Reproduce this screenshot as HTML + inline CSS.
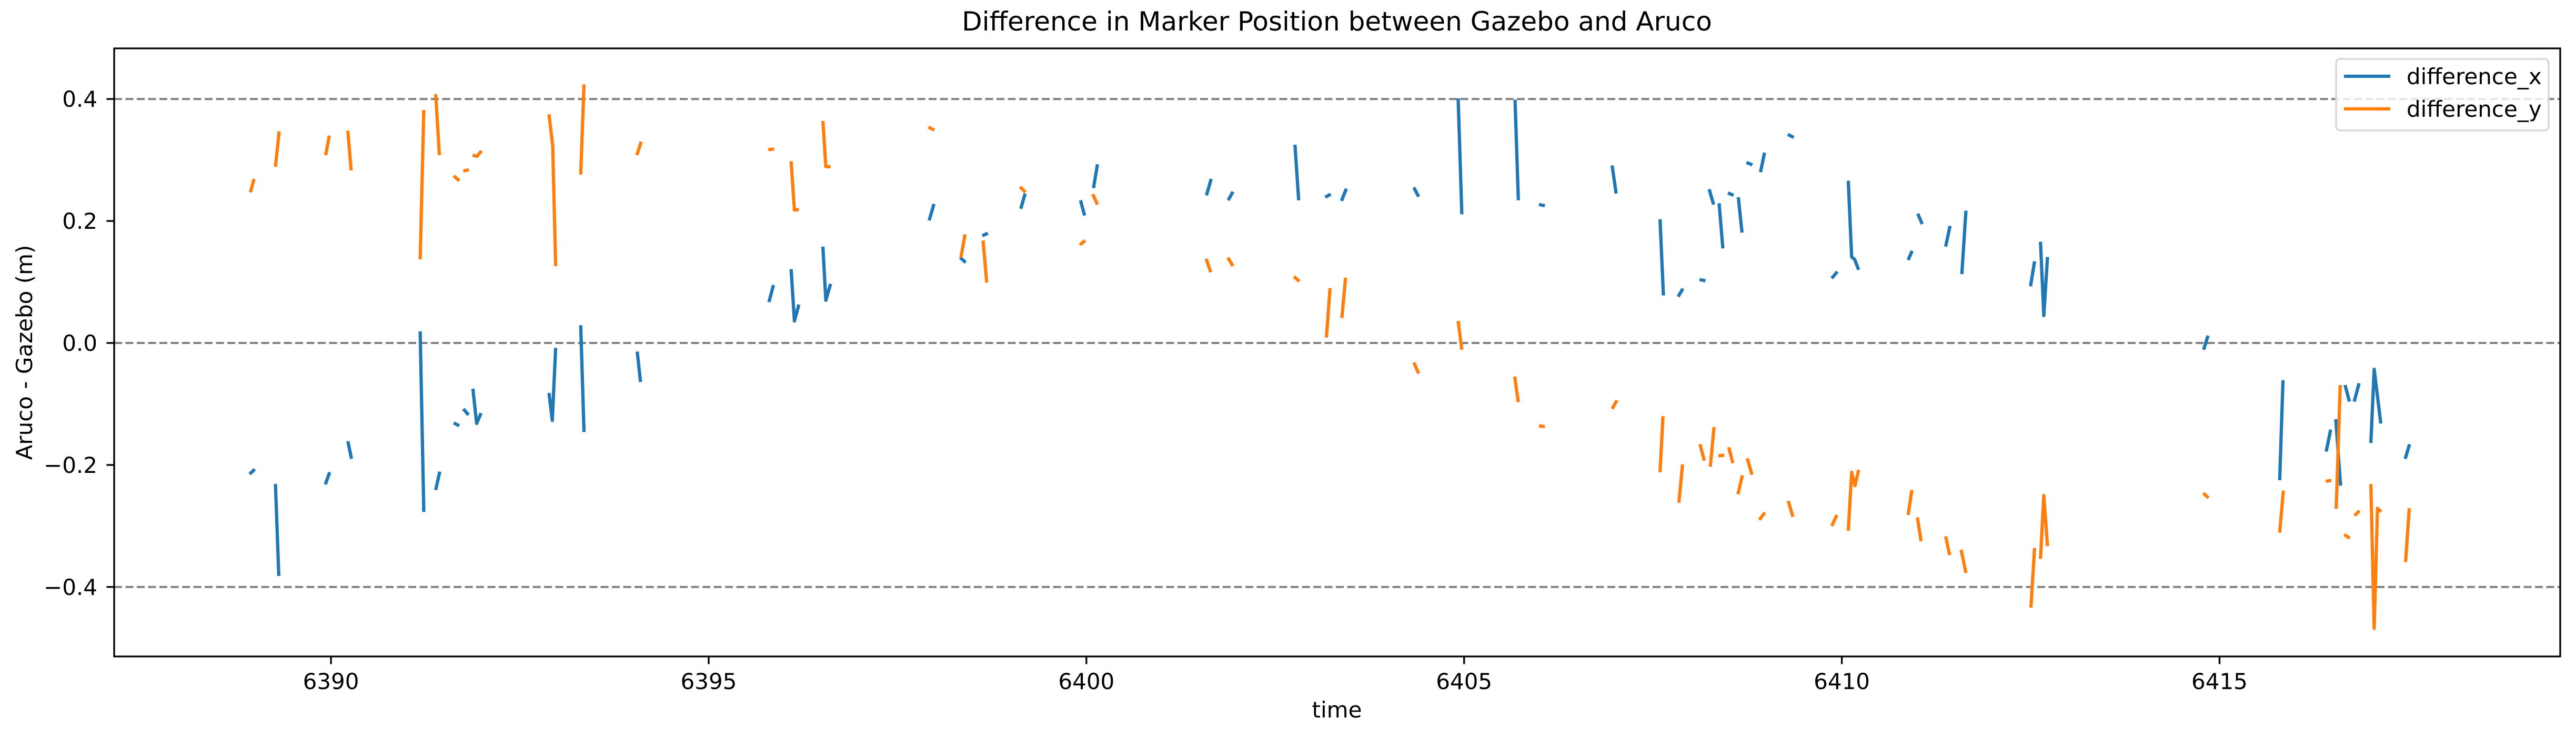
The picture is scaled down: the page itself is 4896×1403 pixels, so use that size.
<!DOCTYPE html>
<html><head><meta charset="utf-8"><style>
html,body{margin:0;padding:0;background:#fff;}
svg{display:block;font-family:"DejaVu Sans","Liberation Sans",sans-serif;}
</style></head><body>
<svg id="chart" width="4896" height="1403" viewBox="0 0 4896 1403" xmlns="http://www.w3.org/2000/svg">
<rect x="0" y="0" width="4896" height="1403" fill="#fff"/>
<text x="2541" y="58" font-size="50" text-anchor="middle">Difference in Marker Position between Gazebo and Aruco</text>
<g id="grid"></g>
<g id="series"></g>
<g id="axes"></g>
<text x="2541" y="1364" font-size="42" text-anchor="middle">time</text>
<text transform="translate(61,670) rotate(-90)" font-size="42" text-anchor="middle">Aruco - Gazebo (m)</text>
<g>
<rect x="4440" y="112" width="404" height="136" rx="8" fill="#fff" fill-opacity="0.8" stroke="#d6d6d6" stroke-width="3.3"/>
<line x1="4455" y1="145" x2="4543" y2="145" stroke="#1f77b4" stroke-width="6.25"/>
<text x="4574" y="160" font-size="42">difference_x</text>
<line x1="4455" y1="207" x2="4543" y2="207" stroke="#ff7f0e" stroke-width="6.25"/>
<text x="4574" y="222" font-size="42">difference_y</text>
</g>
</svg>
<script>
const xTicks = [6390, 6395, 6400, 6405, 6410, 6415];
const yTicks = [-0.4, -0.2, 0.0, 0.2, 0.4];
const refLines = [-0.4, 0.0, 0.4];
const timesX = [6388.923,6388.991,null,6389.265,6389.309,null,6389.925,6389.983,null,6390.223,6390.272,null,6391.181,6391.229,null,6391.386,6391.440,null,6391.625,6391.698,null,6391.752,6391.821,null,6391.879,6391.928,6391.987,null,6392.886,6392.930,6392.974,null,6393.306,6393.350,null,6394.054,6394.098,null,6395.798,6395.857,null,
6396.091,6396.135,6396.194,null,6396.512,6396.551,6396.614,null,6397.919,6397.982,null,6398.329,6398.403,null,6398.623,6398.696,null,6399.131,6399.189,null,6399.922,6399.976,null,6400.094,6400.147,null,6401.589,6401.652,null,6401.877,6401.940,null,6402.761,6402.810,null,6403.162,6403.235,null,6403.377,6403.441,null,
6404.335,6404.398,null,6404.921,6404.970,null,6405.674,6405.718,null,6405.991,6406.070,null,6406.959,6407.013,null,6407.594,6407.638,null,6407.833,6407.897,null,6408.117,6408.195,null,6408.244,6408.303,null,6408.376,6408.425,null,6408.493,6408.567,null,6408.630,6408.679,null,6408.738,6408.816,null,6408.923,6408.977,null,6409.285,6409.363,null,6409.866,6409.940,null,6410.086,6410.130,6410.169,6410.223,null,6410.878,6410.931,null,6411.005,6411.064,null,
6411.374,6411.433,null,6411.589,6411.643,null,6412.498,6412.552,null,6412.630,6412.674,6412.723,null,6414.790,6414.848,null,6415.796,6415.840,null,6416.412,6416.471,null,6416.539,6416.603,null,6416.661,6416.720,null,6416.783,6416.847,null,6417.003,6417.047,6417.135,null,6417.458,6417.516];
const valuesX = [-0.215,-0.207,null,-0.231,-0.382,null,-0.232,-0.212,null,-0.161,-0.190,null,0.019,-0.277,null,-0.241,-0.211,null,-0.131,-0.136,null,-0.108,-0.118,null,-0.075,-0.132,-0.115,null,-0.082,-0.127,-0.008,null,0.029,-0.146,null,-0.014,-0.064,null,0.067,0.095,null,
0.121,0.036,0.063,null,0.158,0.070,0.097,null,0.201,0.228,null,0.140,0.132,null,0.176,0.180,null,0.220,0.245,null,0.234,0.209,null,0.254,0.293,null,0.242,0.269,null,0.234,0.248,null,0.325,0.234,null,0.239,0.244,null,0.233,0.253,null,
0.255,0.240,null,0.401,0.211,null,0.399,0.234,null,0.227,0.225,null,0.291,0.245,null,0.203,0.078,null,0.076,0.089,null,0.104,0.102,null,0.252,0.227,null,0.229,0.155,null,0.246,0.242,null,0.239,0.181,null,0.296,0.292,null,0.280,0.312,null,0.342,0.337,null,0.106,0.117,null,0.266,0.141,0.137,0.120,null,0.136,0.151,null,0.212,0.195,null,
0.158,0.192,null,0.113,0.217,null,0.093,0.134,null,0.166,0.045,0.141,null,-0.011,0.012,null,-0.225,-0.061,null,-0.178,-0.142,null,-0.125,-0.234,null,-0.069,-0.096,null,-0.096,-0.066,null,-0.164,-0.043,-0.132,null,-0.190,-0.166];
const timesY = [6388.933,6388.982,null,6389.265,6389.314,null,6389.930,6389.978,null,6390.223,6390.267,null,6391.181,6391.229,null,6391.386,6391.435,null,6391.625,6391.698,null,6391.752,6391.825,null,6391.874,6391.933,6391.992,null,6392.886,6392.935,6392.974,null,6393.306,6393.350,null,6394.049,6394.107,null,6395.788,6395.867,null,
6396.091,6396.135,6396.194,null,6396.512,6396.551,6396.614,null,6397.909,6397.987,null,6398.339,6398.393,null,6398.632,6398.681,null,6399.121,6399.194,null,6399.913,6399.986,null,6400.084,6400.147,null,6401.584,6401.647,null,6401.872,6401.940,null,6402.747,6402.820,null,6403.177,6403.225,null,6403.382,6403.431,null,
6404.335,6404.398,null,6404.921,6404.970,null,6405.669,6405.718,null,6405.991,6406.070,null,6406.959,6407.023,null,6407.594,6407.633,null,6407.843,6407.892,null,6408.122,6408.180,null,6408.259,6408.308,null,6408.366,6408.444,null,6408.503,6408.557,null,6408.625,6408.684,null,6408.748,6408.811,null,6408.909,6408.982,null,6409.290,6409.353,null,6409.866,6409.935,null,6410.086,6410.130,6410.174,6410.223,null,6410.878,6410.927,null,6411.000,6411.049,null,
6411.374,6411.428,null,6411.579,6411.643,null,6412.503,6412.552,null,6412.630,6412.674,6412.723,null,6414.785,6414.853,null,6415.796,6415.845,null,6416.407,6416.480,null,6416.544,6416.598,null,6416.651,6416.725,null,6416.788,6416.852,null,6417.003,6417.047,6417.091,6417.140,null,6417.463,6417.512];
const valuesY = [0.247,0.269,null,0.289,0.347,null,0.308,0.340,null,0.348,0.283,null,0.137,0.382,null,0.408,0.308,null,0.274,0.266,null,0.282,0.284,null,0.308,0.306,0.315,null,0.375,0.323,0.126,null,0.276,0.424,null,0.308,0.330,null,0.317,0.318,null,
0.298,0.218,0.219,null,0.364,0.289,0.289,null,0.354,0.349,null,0.140,0.178,null,0.168,0.099,null,0.256,0.247,null,0.161,0.168,null,0.244,0.227,null,0.138,0.116,null,0.140,0.126,null,0.109,0.101,null,0.009,0.090,null,0.041,0.107,null,
-0.032,-0.050,null,0.036,-0.011,null,-0.055,-0.097,null,-0.136,-0.137,null,-0.108,-0.094,null,-0.212,-0.120,null,-0.262,-0.199,null,-0.166,-0.193,null,-0.203,-0.138,null,-0.185,-0.184,null,-0.171,-0.197,null,-0.248,-0.217,null,-0.189,-0.216,null,-0.290,-0.278,null,-0.259,-0.285,null,-0.300,-0.282,null,-0.308,-0.212,-0.234,-0.208,null,-0.282,-0.241,null,-0.286,-0.325,null,
-0.317,-0.348,null,-0.339,-0.377,null,-0.434,-0.336,null,-0.354,-0.250,-0.333,null,-0.246,-0.254,null,-0.311,-0.242,null,-0.227,-0.225,null,-0.272,-0.069,null,-0.314,-0.320,null,-0.283,-0.275,null,-0.231,-0.468,-0.271,-0.277,null,-0.359,-0.271];

const NS = 'http://www.w3.org/2000/svg';
const L = 217, R = 4866, T = 92, B = 1248;
const X0 = 6387.13, X1 = 6419.51, Y0 = -0.514, Y1 = 0.483;
function sx(t){ return L + (t - X0) / (X1 - X0) * (R - L); }
function sy(v){ return B - (v - Y0) / (Y1 - Y0) * (B - T); }
function mk(tag, attrs, parent){
  const e = document.createElementNS(NS, tag);
  for (const k in attrs) e.setAttribute(k, attrs[k]);
  parent.appendChild(e);
  return e;
}
const grid = document.getElementById('grid');
refLines.forEach(v => {
  const l = mk('line', {x1:L, x2:R, y1:sy(v), y2:sy(v), stroke:'#808080', 'stroke-width':4, 'stroke-dasharray':'15 6.5'}, grid);
  
  
});
const series = document.getElementById('series');
function drawSeries(times, vals, color, name){
  let d = '', pen = false;
  for (let i = 0; i < times.length; i++){
    if (times[i] === null || vals[i] === null){ pen = false; continue; }
    d += (pen ? 'L' : 'M') + sx(times[i]).toFixed(1) + ' ' + sy(vals[i]).toFixed(1) + ' ';
    pen = true;
  }
  const p = mk('path', {d:d, fill:'none', stroke:color, 'stroke-width':6.25, 'stroke-linejoin':'round', 'stroke-linecap':'butt'}, series);
  
  
}
drawSeries(timesX, valuesX, '#1f77b4', 'difference-x-line');
drawSeries(timesY, valuesY, '#ff7f0e', 'difference-y-line');

const axes = document.getElementById('axes');
const frame = mk('rect', {x:L, y:T, width:R-L, height:B-T, fill:'none', stroke:'#000', 'stroke-width':3.3}, axes);


xTicks.forEach(t => {
  const x = sx(t);
  const tk = mk('line', {x1:x, x2:x, y1:B, y2:B+14.6, stroke:'#000', 'stroke-width':3.3}, axes);
  
  
  const tx = mk('text', {x:x, y:1310, 'font-size':42, 'text-anchor':'middle'}, axes);
  tx.textContent = String(t);
  
  
});
yTicks.forEach(v => {
  const y = sy(v);
  const tk = mk('line', {x1:L-14.6, x2:L, y1:y, y2:y, stroke:'#000', 'stroke-width':3.3}, axes);
  
  
  const tx = mk('text', {x:185, y:y+15, 'font-size':42, 'text-anchor':'end'}, axes);
  tx.textContent = (v < 0 ? '\u2212' : '') + Math.abs(v).toFixed(1);
  
  
});
</script>
</body></html>
